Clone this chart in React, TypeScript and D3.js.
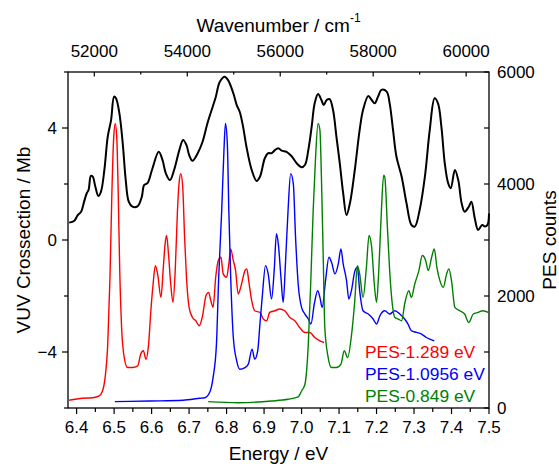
import React from 'react';
import * as d3 from 'd3';

// VUV cross section (Energy eV, Mb)
const vuvSpectrum: [number, number][] = [
  [6.380,0.62],[6.394,0.69],[6.403,0.89],[6.412,1.01],[6.420,1.37],[6.427,1.67],[6.432,1.79],[6.438,2.29],[6.443,2.26],[6.450,1.90],
  [6.458,1.57],[6.465,1.73],[6.474,2.50],[6.483,3.69],[6.492,4.29],[6.500,5.12],[6.505,5.06],[6.514,4.53],[6.523,3.45],[6.531,2.14],
  [6.539,1.37],[6.549,1.19],[6.563,1.21],[6.574,1.55],[6.580,1.96],[6.589,2.03],[6.601,2.50],[6.619,3.15],[6.629,2.86],[6.638,2.38],
  [6.649,2.14],[6.660,2.50],[6.674,3.21],[6.684,3.57],[6.693,3.39],[6.700,3.04],[6.709,2.83],[6.723,3.10],[6.736,3.51],[6.749,4.17],
  [6.763,4.76],[6.771,5.10],[6.782,5.65],[6.795,5.83],[6.804,5.71],[6.818,5.24],[6.827,4.82],[6.835,4.58],[6.844,4.05],[6.853,3.33],
  [6.867,2.50],[6.880,2.11],[6.889,2.26],[6.902,2.92],[6.911,3.10],[6.920,3.10],[6.929,3.21],[6.938,3.28],[6.947,3.19],[6.960,3.15],
  [6.973,3.00],[6.987,2.74],[7.000,2.60],[7.009,2.68],[7.018,3.21],[7.027,4.05],[7.035,4.88],[7.044,5.21],[7.053,5.00],[7.059,4.82],
  [7.067,5.00],[7.075,5.03],[7.084,4.64],[7.093,3.69],[7.102,2.74],[7.111,1.67],[7.120,0.89],[7.129,1.31],[7.142,2.50],[7.155,3.93],
  [7.164,4.64],[7.178,5.14],[7.187,5.00],[7.195,4.88],[7.204,5.12],[7.213,5.36],[7.227,5.30],[7.235,4.88],[7.244,3.93],[7.253,2.98],
  [7.267,2.26],[7.280,1.31],[7.293,0.54],[7.302,0.48],[7.315,1.07],[7.329,2.26],[7.342,3.93],[7.355,5.06],[7.364,4.88],[7.373,4.05],
  [7.382,2.74],[7.391,2.03],[7.398,1.85],[7.409,2.50],[7.418,2.14],[7.427,1.31],[7.435,1.01],[7.446,1.19],[7.453,1.37],[7.462,0.78],
  [7.471,0.36],[7.482,0.54],[7.489,0.48],[7.496,0.54],[7.500,0.95]
];

// PES counts (Energy eV, counts)
const pes1289: [number, number][] = [
  [6.380,138],[6.416,174],[6.443,184],[6.460,215],[6.469,304],[6.476,543],[6.483,1141],[6.489,2334],[6.494,3827],[6.499,4841],
  [6.503,5081],[6.507,4841],[6.511,3827],[6.515,2454],[6.520,1438],[6.527,901],[6.536,722],[6.549,722],[6.563,752],[6.571,962],
  [6.578,1021],[6.585,872],[6.592,1141],[6.598,1737],[6.604,2215],[6.610,2543],[6.616,2395],[6.625,1975],[6.631,2484],[6.636,2932],
  [6.640,3081],[6.645,2753],[6.651,2215],[6.657,1886],[6.663,2454],[6.669,3528],[6.674,4066],[6.678,4186],[6.683,3946],[6.688,3050],
  [6.693,2334],[6.700,1796],[6.709,1617],[6.718,1558],[6.727,1469],[6.736,1648],[6.745,2006],[6.752,2065],[6.758,1916],[6.764,1796],
  [6.771,2334],[6.778,2633],[6.785,2692],[6.791,2395],[6.800,2334],[6.806,2574],[6.811,2842],[6.818,2633],[6.824,2454],[6.831,2036],
  [6.840,2215],[6.849,2454],[6.854,2484],[6.859,2275],[6.867,1916],[6.875,1737],[6.889,1707],[6.898,1589],[6.907,1558],[6.915,1707],
  [6.929,1737],[6.942,1768],[6.955,1737],[6.969,1617],[6.982,1558],[6.995,1438],[7.009,1349],[7.022,1349],[7.035,1259],[7.049,1200],
  [7.060,1170]
];

const pes10956: [number, number][] = [
  [6.502,113],[6.595,125],[6.684,138],[6.729,174],[6.742,184],[6.755,280],[6.764,543],[6.773,1141],[6.779,2334],[6.787,3528],
  [6.793,4603],[6.797,5081],[6.802,4723],[6.806,3528],[6.811,2334],[6.818,1259],[6.827,842],[6.835,693],[6.849,722],[6.858,783],
  [6.868,1051],[6.875,872],[6.883,1021],[6.889,1499],[6.895,1975],[6.904,2543],[6.911,2395],[6.920,1947],[6.927,2454],[6.933,3111],
  [6.938,2932],[6.945,2334],[6.951,1886],[6.957,2574],[6.964,3528],[6.971,4186],[6.978,4006],[6.984,3050],[6.991,2215],[7.000,1796],
  [7.009,1678],[7.018,1589],[7.025,1499],[7.034,1857],[7.043,2095],[7.049,1975],[7.055,1796],[7.064,2275],[7.073,2692],[7.080,2602],
  [7.089,2395],[7.098,2574],[7.105,2842],[7.111,2574],[7.120,2275],[7.126,1947],[7.133,2095],[7.142,2440],[7.149,2513],[7.155,2095],
  [7.164,1737],[7.178,1678],[7.191,1589],[7.200,1499],[7.209,1648],[7.222,1737],[7.235,1678],[7.249,1737],[7.262,1678],[7.275,1589],
  [7.284,1499],[7.293,1379],[7.307,1349],[7.320,1320],[7.333,1259],[7.342,1230],[7.354,1200]
];

const pes0849: [number, number][] = [
  [6.751,113],[6.831,95],[6.920,125],[6.964,156],[6.991,197],[7.000,304],[7.009,424],[7.018,1141],[7.025,2334],[7.031,3528],
  [7.037,4424],[7.044,5081],[7.049,4961],[7.053,4125],[7.058,2633],[7.062,1438],[7.071,901],[7.080,722],[7.093,722],[7.105,783],
  [7.114,1021],[7.123,901],[7.133,1289],[7.142,1916],[7.149,2543],[7.155,2395],[7.164,1975],[7.173,2513],[7.180,3081],[7.187,2871],
  [7.194,2215],[7.200,1886],[7.206,2454],[7.213,3528],[7.219,4155],[7.222,4125],[7.229,3229],[7.235,2454],[7.242,1857],[7.249,1617],
  [7.258,1589],[7.267,1558],[7.275,1857],[7.286,2095],[7.293,1975],[7.302,2215],[7.313,2454],[7.322,2722],[7.331,2633],[7.338,2454],
  [7.347,2692],[7.354,2842],[7.361,2513],[7.369,2275],[7.378,2155],[7.387,2395],[7.393,2484],[7.400,2275],[7.409,1796],[7.422,1737],
  [7.435,1678],[7.446,1528],[7.458,1678],[7.471,1707],[7.484,1737],[7.498,1707]
];

const energyTicks = [6.4, 6.5, 6.6, 6.7, 6.8, 6.9, 7.0, 7.1, 7.2, 7.3, 7.4, 7.5];
const wavenumberTicks = [52000, 54000, 56000, 58000, 60000];
const crossTicks = [-4, 0, 4];
const countTicks = [0, 2000, 4000, 6000];
const legendLabels = ['PES-1.289 eV', 'PES-1.0956 eV', 'PES-0.849 eV'];
const seriesColors = ['#ff0000', '#0000ff', '#008000'];
const EV_TO_CM = 8065.54;

const FONT = 'Liberation Sans, Arial, Helvetica, sans-serif';

export default function App() {
  const W = 559, H = 464;
  const L = 68, R = 489, T = 72, B = 408;
  const x = d3.scaleLinear().domain([6.377, 7.5]).range([L, R]);
  const xTop = d3.scaleLinear().domain([6.377 * EV_TO_CM, 7.5 * EV_TO_CM]).range([L, R]);
  const yL = d3.scaleLinear().domain([-6, 6]).range([B, T]);
  const yR = d3.scaleLinear().domain([0, 6000]).range([B, T]);

  const vuvLine = d3.line<[number, number]>().x(d => x(d[0])).y(d => yL(d[1])).curve(d3.curveCatmullRom.alpha(0.5));
  const pesLine = d3.line<[number, number]>().x(d => x(d[0])).y(d => yR(d[1])).curve(d3.curveMonotoneX);

  const energyMinor = d3.range(0, 23).map(i => 6.4 + i * 0.05);
  const wnMinor = d3.range(52000, 61000, 1000);
  const crossMinor = d3.range(-6, 7, 2);
  const countMinor = d3.range(0, 7000, 1000);
  const fmtE = d3.format('.1f');
  const fmtN = d3.format('d');

  const pesSeries = [pes1289, pes10956, pes0849];

  return (
    <svg width={W} height={H} style={{ position: 'absolute', left: 0, top: 0, background: '#fff' }} fontFamily={FONT}>
      <rect x={0} y={0} width={W} height={H} fill="#fff" />
      {/* curves */}
      {pesSeries.map((s, i) => (
        <path key={i} d={pesLine(s) || ''} fill="none" stroke={seriesColors[i]} strokeWidth={1.4} />
      ))}
      <path d={vuvLine(vuvSpectrum) || ''} fill="none" stroke="#000" strokeWidth={2} />

      {/* frame */}
      <rect x={L} y={T} width={R - L} height={B - T} fill="none" stroke="#000" strokeWidth={1.3} />

      {/* bottom axis */}
      {energyMinor.map((v, i) => (
        <line key={i} x1={x(v)} x2={x(v)} y1={B} y2={B + (i % 2 === 0 ? 6 : 4)} stroke="#000" strokeWidth={1.2} />
      ))}
      {energyTicks.map(v => (
        <text key={v} x={x(v)} y={427} textAnchor="middle" dominantBaseline="central" fontSize={17}>{fmtE(v)}</text>
      ))}
      <text x={(L + R) / 2} y={453} textAnchor="middle" dominantBaseline="central" fontSize={19}>Energy / eV</text>

      {/* top axis */}
      {wnMinor.map((v, i) => (
        <line key={v} x1={xTop(v)} x2={xTop(v)} y1={T} y2={T + (i % 2 === 0 ? 4.5 : 2.5)} stroke="#000" strokeWidth={1.2} />
      ))}
      {wavenumberTicks.map(v => (
        <text key={v} x={xTop(v)} y={51} textAnchor="middle" dominantBaseline="central" fontSize={17}>{fmtN(v)}</text>
      ))}
      <text x={(L + R) / 2} y={25} textAnchor="middle" dominantBaseline="central" fontSize={19}>
        Wavenumber / cm<tspan dy={-7} fontSize={12}>-1</tspan>
      </text>

      {/* left axis */}
      {crossMinor.map(v => (
        <line key={v} x1={L - (v % 4 === 0 ? 6 : 4)} x2={L} y1={yL(v)} y2={yL(v)} stroke="#000" strokeWidth={1.2} />
      ))}
      {crossTicks.map(v => (
        <text key={v} x={57} y={yL(v)} textAnchor="end" dominantBaseline="central" fontSize={17}>{d3.format('d')(v)}</text>
      ))}
      <text transform={`translate(23,${(T + B) / 2}) rotate(-90)`} textAnchor="middle" dominantBaseline="central" fontSize={19}>VUV Crossection / Mb</text>

      {/* right axis */}
      {countMinor.map(v => (
        <line key={v} x1={R - 5} x2={R} y1={yR(v)} y2={yR(v)} stroke="#000" strokeWidth={1.2} />
      ))}
      {countTicks.map(v => (
        <text key={v} x={497} y={yR(v)} textAnchor="start" dominantBaseline="central" fontSize={17}>{fmtN(v)}</text>
      ))}
      <text transform={`translate(549,${(T + B) / 2}) rotate(-90)`} textAnchor="middle" dominantBaseline="central" fontSize={19}>PES counts</text>

      {/* legend */}
      {legendLabels.map((lab, i) => (
        <text key={lab} x={365} y={352 + i * 22} dominantBaseline="central" fontSize={17.4} fill={seriesColors[i]}>{lab}</text>
      ))}
    </svg>
  );
}
